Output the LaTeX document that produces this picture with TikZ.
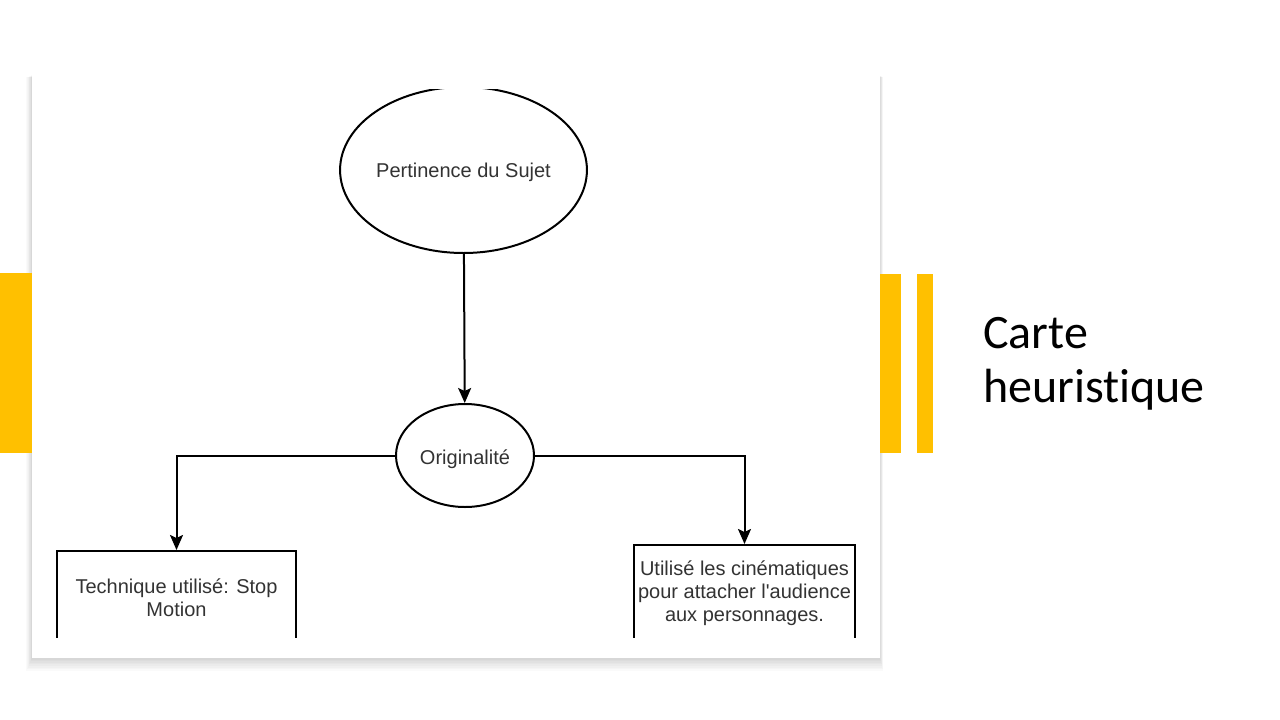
\documentclass[tikz,border=0pt]{standalone}
\usepackage{fontspec}
\setmainfont{Liberation Sans}[Ligatures=TeXOff]
\newfontfamily\titlefont{Carlito}[Ligatures={CommonOff,RareOff}]
\usetikzlibrary{shapes.geometric,arrows.meta}
\definecolor{accent}{HTML}{FFC000}
\definecolor{inktext}{HTML}{333333}
\begin{document}
\begin{tikzpicture}[x=1pt,y=-1pt,
  bubble/.style={ellipse,draw=black,line width=2pt,inner sep=0pt,font=\fontsize{20}{23}\selectfont,text=inktext},
  leafbox/.style={rectangle,draw=black,line width=2pt,inner sep=0pt,align=center,font=\fontsize{20}{23}\selectfont,text=inktext},
  link/.style={draw=black,line width=2pt,-{Stealth[length=15pt,width=13pt,inset=3pt]}}]
\useasboundingbox (0,0) rectangle (1280,720);
\fill[white] (0,0) rectangle (1280,720);
% shadow of the panel
\foreach \i in {1,...,8}{
  \fill[black,opacity=0.02] (32-\i*0.7,75+\i*0.3) rectangle (880+\i*0.4,658+\i*1.6);
}
% yellow bars
\fill[accent] (0,273) rectangle (32,453);
\fill[accent] (880,274) rectangle (901,453);
\fill[accent] (917,274) rectangle (933,453);
% panel
\fill[white] (32,75) rectangle (880,658);
\begin{scope}
\clip (32,89) rectangle (880,637);
\node[bubble,minimum width=237pt,minimum height=166pt,text height=14pt,text depth=0pt] (p) at (463.5,170) {Pertinence du Sujet};
\node[bubble,minimum width=138pt,minimum height=103pt,text height=17pt,text depth=0pt] (o) at (465,455.5) {Originalité};
\node[leafbox,minimum width=239pt,minimum height=93pt] (b1) at (176.5,597.5) {Technique utilisé: Stop\\Motion};
\node[leafbox,minimum width=221pt,minimum height=96pt] (b2) at (744.5,593) {Utilisé les cinématiques\\pour attacher l'audience\\aux personnages.};
\draw[link] (p) -- (o);
\draw[link] (o.west) -| (b1.north);
\draw[link] (o.east) -| (b2.north);
\end{scope}
% title
\node[anchor=base west,inner sep=0pt,align=left,text=black,font=\titlefont\fontsize{48}{54}\selectfont] (title) at (983,402) {Carte\\heuristique};
\end{tikzpicture}
\end{document}
